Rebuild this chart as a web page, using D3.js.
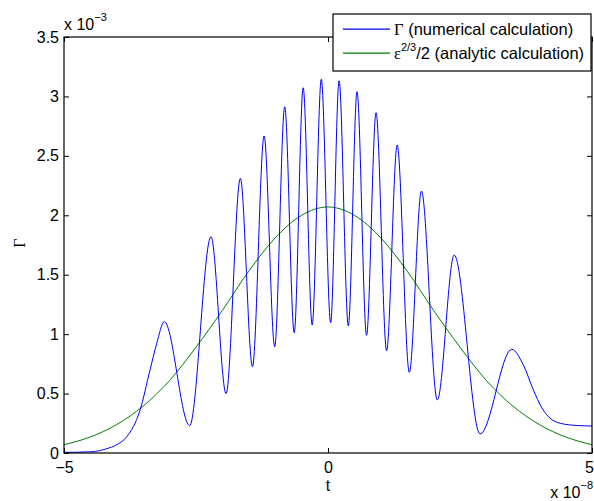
<!DOCTYPE html>
<html>
<head>
<meta charset="utf-8">
<script src="https://cdn.jsdelivr.net/npm/d3@7"></script>
<style>
  body { margin: 0; background: #fff; }
  text { font-family: "Liberation Sans", Arial, sans-serif; fill: #000; }
</style>
</head>
<body>
<div id="d3-container"></div>
<script>
/* data: t in units of 1e-8, Gamma in units of 1e-3 */
const blueT = [-5, -4.5, -4.2, -4.0, -3.81, -3.56, -3.37, -3.245, -3.10, -2.62, -2.216, -1.93, -1.66, -1.43,
  -1.21, -1.01, -0.82, -0.64, -0.47, -0.30, -0.127, 0.05, 0.21, 0.385, 0.55, 0.73, 0.91,
  1.11, 1.31, 1.54, 1.77, 2.07, 2.39, 2.88, 3.48, 3.7, 3.89, 4.05, 4.2, 4.4, 4.7, 5];
const blueG = [0.005, 0.01, 0.035, 0.07, 0.137, 0.36, 0.70, 0.92, 1.105, 0.23, 1.82, 0.50, 2.31, 0.726,
  2.667, 0.894, 2.913, 1.012, 3.073, 1.077, 3.144, 1.096, 3.132, 1.068, 3.04, 0.99, 2.863,
  0.861, 2.591, 0.679, 2.204, 0.446, 1.666, 0.16, 0.872, 0.74, 0.53, 0.38, 0.295, 0.25, 0.232, 0.227];

const greenT = [-5, -4.5, -4, -3.5, -3, -2.5, -2, -1.5, -1, -0.5, 0, 0.5, 1, 1.5, 2, 2.5, 3, 3.5, 4, 4.5, 5];
const greenG = [0.07, 0.135, 0.24, 0.395, 0.61, 0.89, 1.2, 1.53, 1.81, 2.0, 2.07, 2.0, 1.81, 1.53, 1.2, 0.89, 0.61, 0.395, 0.24, 0.135, 0.07];

const xTicks = [-5, 0, 5];
const yTicks = [0, 0.5, 1, 1.5, 2, 2.5, 3, 3.5];
const yTickLabels = ["0", "0.5", "1", "1.5", "2", "2.5", "3", "3.5"];

/* layout */
const width = 594, height = 501;
const plotLeft = 64, plotRight = 592, plotTop = 37, plotBottom = 453;

const svg = d3.select("#d3-container").append("svg")
  .attr("width", width).attr("height", height);

const x = d3.scaleLinear().domain([-5, 5]).range([plotLeft, plotRight]);
const y = d3.scaleLinear().domain([0, 3.5]).range([plotBottom, plotTop]);

// curves
const line = d3.line().x(d => x(d[0])).y(d => y(d[1])).curve(d3.curveMonotoneX);

svg.append("path")
  .datum(greenT.map((t, i) => [t, greenG[i]]))
  .attr("fill", "none").attr("stroke", "#008000").attr("stroke-width", 1)
  .attr("d", line);

svg.append("path")
  .datum(blueT.map((t, i) => [t, blueG[i]]))
  .attr("fill", "none").attr("stroke", "#0000ff").attr("stroke-width", 1)
  .attr("d", line);

// axes with inward ticks on all four sides
const styleAxis = g => {
  g.select(".domain").remove();
  g.selectAll(".tick line").attr("stroke", "#000");
  g.selectAll("text").style("font-size", "16px").attr("font-family", null);
};

const xAxisG = svg.append("g").attr("transform", `translate(0,${plotBottom})`)
  .call(d3.axisBottom(x).tickValues(xTicks).tickSize(-5).tickPadding(9)
    .tickFormat(d => d3.format("")(d)))
  .call(styleAxis);
// last label sits at the window edge; nudge it inside
xAxisG.selectAll(".tick text").filter(d => d === 5).attr("x", -3);

svg.append("g").attr("transform", `translate(0,${plotTop})`)
  .call(d3.axisTop(x).tickValues(xTicks).tickSize(-5).tickFormat(""))
  .call(styleAxis);

svg.append("g").attr("transform", `translate(${plotLeft},0)`)
  .call(d3.axisLeft(y).tickValues(yTicks).tickSize(-5).tickPadding(5)
    .tickFormat((d, i) => yTickLabels[i]))
  .call(styleAxis);

svg.append("g").attr("transform", `translate(${plotRight},0)`)
  .call(d3.axisRight(y).tickValues(yTicks).tickSize(-5).tickFormat(""))
  .call(styleAxis);

// box
svg.append("rect")
  .attr("x", plotLeft).attr("y", plotTop)
  .attr("width", plotRight - plotLeft).attr("height", plotBottom - plotTop)
  .attr("fill", "none").attr("stroke", "#000").attr("stroke-width", 1.2);

// exponent labels
const yExp = svg.append("text").attr("x", 64).attr("y", 29.5).style("font-size", "16px");
yExp.append("tspan").text("x 10");
yExp.append("tspan").attr("dy", -9).style("font-size", "11px").text("\u22123");

const xExp = svg.append("text").attr("x", 593).attr("y", 498)
  .attr("text-anchor", "end").style("font-size", "16px");
xExp.append("tspan").text("x 10");
xExp.append("tspan").attr("dy", -9).style("font-size", "11px").text("\u22128");

// axis labels
svg.append("text").attr("x", 328).attr("y", 491)
  .attr("text-anchor", "middle").style("font-size", "16px").text("t");

svg.append("text")
  .attr("transform", "translate(25,243) rotate(-90)")
  .attr("text-anchor", "middle")
  .style("font-size", "16px").style("font-family", "'Liberation Serif', serif")
  .text("\u0393");

// legend
const legend = svg.append("g");
legend.append("rect")
  .attr("x", 333).attr("y", 14).attr("width", 258).attr("height", 57)
  .attr("fill", "#fff").attr("stroke", "#000").attr("stroke-width", 1.2);

legend.append("line")
  .attr("x1", 343).attr("x2", 390).attr("y1", 29.2).attr("y2", 29.2)
  .style("stroke", "#0000ff").style("stroke-width", "1.2px");
legend.append("line")
  .attr("x1", 343).attr("x2", 390).attr("y1", 53.2).attr("y2", 53.2)
  .style("stroke", "#008000").style("stroke-width", "1.2px");

const t1 = legend.append("text").attr("x", 394).attr("y", 35).style("font-size", "16.5px");
t1.append("tspan").style("font-family", "'Liberation Serif', serif").text("\u0393");
t1.append("tspan").text(" (numerical calculation)");

const t2 = legend.append("text").attr("x", 394).attr("y", 59).style("font-size", "16.5px");
t2.append("tspan").style("font-family", "'Liberation Serif', serif").text("\u03b5");
t2.append("tspan").attr("dy", -8).style("font-size", "11px").text("2/3");
t2.append("tspan").attr("dy", 8).text("/2 (analytic calculation)");
</script>
</body>
</html>
